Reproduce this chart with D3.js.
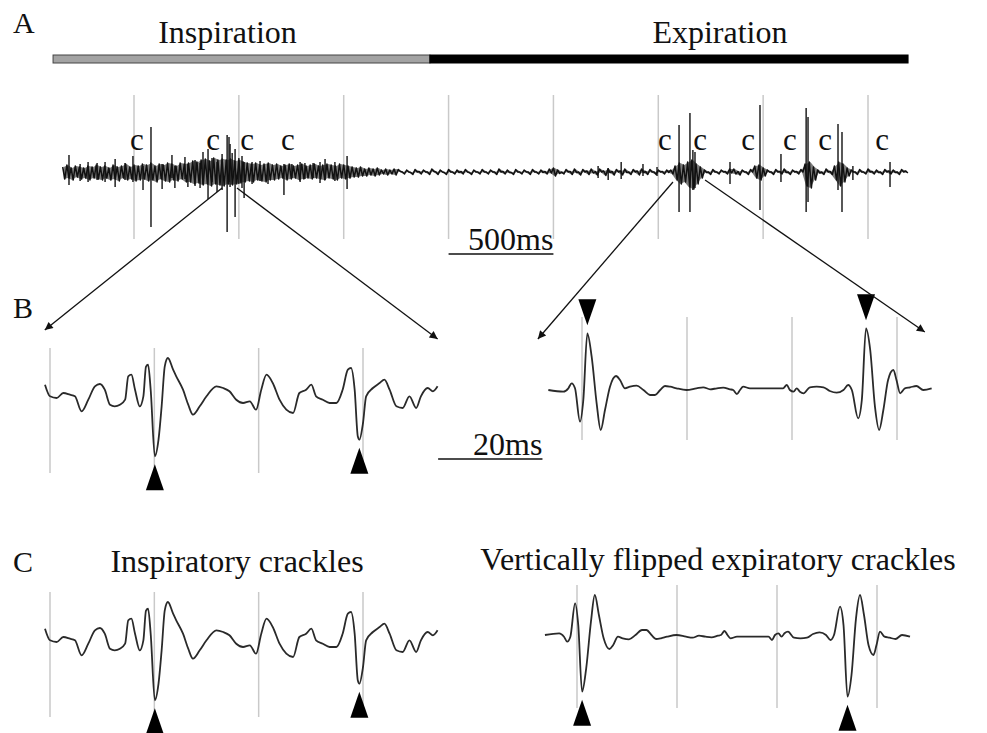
<!DOCTYPE html>
<html><head><meta charset="utf-8">
<script src="https://cdn.jsdelivr.net/npm/d3@7"></script>
<style>
body{margin:0;background:#fff}
svg{display:block}
text{font-family:"Liberation Serif","Times New Roman",serif;fill:#111}
</style>
</head><body>
<svg id="fig" width="987" height="733"></svg>
<script>
// ---------------- DATA ----------------
// Panel A: respiratory phases (ms)
const phaseLabels = ["Inspiration", "Expiration"];
const phaseStartMs = [114, 1911];
const phaseEndMs = [1911, 4191];
const phaseLabelMs = [946, 3294];
const phaseFill = ["#a3a3a3", "#000000"];

// Panel A: gridlines every 500 ms
const gridA = [500, 1000, 1500, 2000, 2500, 3000, 3500, 4000];

// Panel A: crackle "c" label times (ms)
const cLabelMs = [514, 877, 1039, 1234, 3032, 3199, 3428, 3628, 3795, 4067];

// Panel A: background trace, sampled every 20 ms from 160 ms:
// local maximum (first half of each interval) and local minimum (second half), a.u.
const aStartMs = 160, aStepMs = 20;
const aEnvHigh = [
 5,7,4,6,5,4,6,5,7,5,
 6,4,7,5,6,8,5,7,6,8,
 7,9,6,8,7,9,8,6,9,8,
 9,11,10,12,13,11,14,12,13,12,
 13,11,12,10,9,8,9,7,8,9,
 7,8,6,7,8,6,7,8,6,7,
 8,6,7,8,7,6,8,7,6,5,
 4,5,3,4,3,4,2,3,2,3,
 2.5,0,2,-0.5,2.5,0.5,2,0,3,0,
 2,-0.5,2.5,0,2,0.5,2.5,-0.5,2,0,
 2.5,0,2,0,3,0.5,2,-0.5,2.5,0,
 2,0,2.5,0,2,0.5,3,4,2,0,
 2.5,0.5,3,0,2.5,1,3,0.5,3,1,
 3,0.5,2.5,1,3,0,2.5,1,3,0.5,
 2.5,0,2,0.5,2,
 2,
 6,9,7,10,12,8,5,
 2,0,2.5,0,2,0.5,3,
 3,0.5,2,0,2.5,
 6,7,
 4,2,0,2.5,0.5,3,0,2,0.5,2.5,
 8,10,5,
 2,0,3,0.5,
 6,10,8,4,
 2,0,2.5,0,3,0.5,2,0,2.5,1,2,0,2.5,1
];
const aEnvLow = [
 -7,-6,-8,-5,-7,-6,-8,-6,-7,-8,
 -6,-8,-7,-9,-6,-8,-7,-9,-8,-7,
 -9,-8,-10,-7,-9,-10,-8,-9,-7,-10,
 -10,-12,-11,-13,-12,-14,-12,-13,-14,-12,
 -13,-12,-11,-10,-9,-10,-8,-9,-10,-8,
 -8,-7,-6,-8,-7,-6,-8,-7,-6,-7,
 -6,-7,-8,-6,-7,-8,-6,-7,-6,-5,
 -5,-4,-4,-3,-4,-3,-2,-3,-2,-3,
 0.5,-2,0,-2.5,0,-2,0,-2.5,0.5,-2.5,
 0,-2.5,0,-2,-0.5,-2,0,-2.5,0,-2,
 0,-2,0,-2.5,0,-2,-0.5,-2.5,0,-2,
 0,-2.5,0,-2,-0.5,-2,-1,-4,-1.5,-2,
 0,-2.5,-0.5,-3,0,-2.5,-1,-3,0,-3.5,
 -0.5,-3,0,-3,-0.5,-2.5,0,-3,-0.5,-2.5,
 0,-2.5,0,-2,-0.5,
 -2,
 -8,-12,-10,-15,-17,-12,-6,
 -0.5,-2.5,0,-2,0,-2,-1,
 -2,-3,0,-2.5,0,
 -6,-8,
 -4,0,-2.5,0,-2,-0.5,-2.5,0,-2,0,
 -14,-16,-8,
 -1,-2.5,0,-2.5,
 -8,-14,-10,-4,
 0,-2.5,0,-2,0,-2,-0.5,-2.5,0,-2,-0.5,-2.5,0,-1
];

// Panel A: individual spikes [time ms, upward amplitude, downward amplitude]
const aSpikes = [
 [190,17,13],[243,8,9],[281,10,10],[324,9,8],[362,10,10],[410,13,15],[457,9,8],[495,16,10],
 [543,6,18],[581,45,55],[634,8,17],[681,17,6],[695,6,16],[743,15,7],[757,8,15],[791,12,14],
 [815,9,16],[829,20,12],[853,23,27],[872,14,10],[896,10,20],[920,18,18],[944,37,60],[953,35,10],
 [958,28,15],[968,19,12],[982,23,45],[1000,14,12],[1015,16,16],[1025,10,26],[1063,10,12],[1101,11,9],
 [1139,8,12],[1215,8,23],[1253,8,6],[1292,10,10],[1315,9,7],[1354,9,6],[1387,10,11],[1411,13,8],
 [1458,10,9],[1516,16,17],
 [2713,6,6],[2761,4,8],[2823,10,7],[2927,8,4],[2994,5,4],[3099,47,40],[3151,59,40],[3165,22,18],
 [3175,20,16],[3342,10,12],[3485,67,38],[3585,18,10],[3705,64,40],[3714,55,30],[3857,48,18],
 [3876,40,40],[3928,6,8],[4105,10,15]
];

// Panels B/C: expanded traces (time ms, amplitude a.u.)
const inspTimeMs = [-0.96,0,1.28,2.55,3.83,4.78,6.06,7.34,8.61,9.57,10.5,11.5,12.4,13.4,14.4,15.0,15.6,16.3,17.2,17.9,
 18.4,18.8,19.3,20.1,20.8,21.4,22.0,22.6,23.6,24.2,25.5,26.5,27.4,28.7,30.0,31.9,33.2,34.4,35.7,37.0,
 38.3,39.5,40.5,41.5,42.7,44.0,45.3,46.6,47.8,49.1,50.1,51.0,52.3,53.6,54.9,56.1,57.1,57.7,58.4,59.0,
 59.3,60.0,60.6,61.9,63.2,64.1,65.1,66.4,67.6,68.9,70.2,71.1,72.4,73.4,74.3];
const inspAmp = [8.3,-3.3,-5,0,-1.7,-3.3,-18.3,-6.7,6.7,9,3.3,-11.7,-13.3,-11.7,-6.7,16.7,18.3,3.3,-13.3,-3.3,
 26.3,28.3,3.3,-63.3,-46.7,-13.3,26.7,35,23.3,16.7,3.3,-11.7,-21.7,-13.3,-3.3,6.7,5,1.7,-6.7,-10,
 -8.3,-16.7,3.3,18.3,10,-6.7,-16.7,-20,0,3.3,8.3,-3.3,-6.7,-10,-10,3.3,23.3,25,3.3,-43.3,
 -46.7,-30,-3.3,5,10,13.3,3.3,-13.3,-15,-3.3,-15,-3.3,5,1.7,6.7];
const expTimeMs = [-6.41,-3.56,-2.60,-1.97,-1.33,-0.38,0.25,1.02,1.84,2.79,3.56,4.38,5.33,6.48,7.24,8.19,9.14,10.4,11.7,13.0,
 13.9,14.9,15.8,16.8,18.0,19.9,21.8,23.1,24.4,25.7,26.9,28.2,28.8,29.5,30.1,30.7,32.0,34.5,37.1,38.3,
 39.0,39.6,40.3,40.9,41.5,42.2,43.4,44.7,46.0,47.2,48.5,49.8,50.7,51.4,52.6,53.3,54.1,54.9,55.8,56.6,
 57.4,58.3,59.3,59.9,60.6,61.5,62.5,63.7,65.0,66.6];
const expAmp = [0,-1.7,1.7,6.7,1.7,-31.7,-10,56.7,33.3,-13.3,-40,-20,3.3,14,10,1.7,3.3,4.3,0,-5,
 -5,0,4,3.3,1.7,0,1.7,2.7,0.7,1.7,2.3,0.7,0,-4,0,3.3,1.7,1.7,1.7,1.7,
 5,0,-1.7,1.7,-1.7,-3.3,2.7,3.3,2.7,-1,-2.7,0,5,0,-28.3,-10,61.7,40,-16.7,-40,
 -20,10,20,10,-3.3,1.7,2.7,4,0,1.7];

// Crackle times marked by triangles (ms)
const inspCrackleMs = [20.1, 59.3];
const expCrackleMs = [1.02, 54.1];

// Gridlines in B/C every 20 ms
const gridB = [0, 20, 40, 60];

// Scale bars
const scaleA = {startMs: 2000, lenMs: 500, label: "500ms"};
const scaleB = {startMs: 74.4, lenMs: 20, label: "20ms"};

// Zoom arrows: source (A time, A amp) -> target (panel time, panel amp)
const zoomArrows = [
 {from:[920,-16], to:[-1,63], panel:"BL"},
 {from:[991,-16], to:[74.3,54], panel:"BL"},
 {from:[3070,-10], to:[-8.4,51], panel:"BR"},
 {from:[3223,-8], to:[65.3,58], panel:"BR"}
];

// ---------------- DRAW ----------------
const svg = d3.select("#fig");
const gridColor = "#c9c9c9";

svg.append("defs").append("marker")
  .attr("id","ah").attr("viewBox","0 0 10 10").attr("refX",10).attr("refY",5)
  .attr("markerWidth",11).attr("markerHeight",8).attr("markerUnits","userSpaceOnUse")
  .attr("orient","auto")
  .append("path").attr("d","M0,0L10,5L0,10Z").attr("fill","#111");

// Panel A scales
const xA = d3.scaleLinear().domain([500, 4000]).range([134, 868]);
const yA = d3.scaleLinear().domain([-67, 77]).range([239, 95]);

// Panel letters
svg.append("text").attr("x",13).attr("y",33).attr("font-size",30).text("A");
svg.append("text").attr("x",13).attr("y",318).attr("font-size",30).text("B");
svg.append("text").attr("x",13).attr("y",572).attr("font-size",30).text("C");

// Phase bar and labels
const gA = svg.append("g");
gA.selectAll("rect.phase").data(phaseLabels).join("rect").attr("class","phase")
  .attr("x",(d,i)=>xA(phaseStartMs[i])).attr("y",55)
  .attr("width",(d,i)=>xA(phaseEndMs[i])-xA(phaseStartMs[i])).attr("height",8)
  .attr("fill",(d,i)=>phaseFill[i]).attr("stroke",(d,i)=>i===0?"#444":"#000").attr("stroke-width",1);
gA.selectAll("text.phase").data(phaseLabels).join("text").attr("class","phase")
  .attr("x",(d,i)=>xA(phaseLabelMs[i])).attr("y",43).attr("text-anchor","middle")
  .attr("font-size",32).text(d=>d);

// Gridlines A
gA.selectAll("line.grid").data(gridA).join("line").attr("class","grid")
  .attr("x1",d=>xA(d)).attr("x2",d=>xA(d)).attr("y1",yA.range()[1]).attr("y2",yA.range()[0])
  .attr("stroke",gridColor).attr("stroke-width",1.5);

// Envelope shading (min/max band)
const areaA = d3.area()
  .x((d,i)=>xA(aStartMs + i*aStepMs + aStepMs/4))
  .y0((d,i)=>yA(aEnvLow[i]))
  .y1((d,i)=>yA(aEnvHigh[i]));
gA.append("path").datum(aEnvHigh).attr("d",areaA).attr("fill","#111").attr("fill-opacity",0.55).attr("stroke","none");

// Background trace: zig-zag through each interval's maximum then minimum
const tracePts = [];
aEnvHigh.forEach((h,i)=>{
  const t0 = aStartMs + i*aStepMs;
  tracePts.push([t0, h]);
  tracePts.push([t0 + aStepMs/2, aEnvLow[i]]);
});
const lineA = d3.line().x(d=>xA(d[0])).y(d=>yA(d[1]));
gA.append("path").datum(tracePts).attr("d",lineA).attr("fill","none")
  .attr("stroke","#111").attr("stroke-width",1.5).attr("stroke-linejoin","round");

// Spikes
gA.selectAll("line.spike").data(aSpikes).join("line").attr("class","spike")
  .attr("x1",d=>xA(d[0])).attr("x2",d=>xA(d[0]))
  .attr("y1",d=>yA(d[1])).attr("y2",d=>yA(-d[2]))
  .attr("stroke","#111").attr("stroke-width",1.4);

// c labels
gA.selectAll("text.c").data(cLabelMs).join("text").attr("class","c")
  .attr("x",d=>xA(d)).attr("y",150).attr("text-anchor","middle").attr("font-size",31).text("c");

// Scale bar A
gA.append("line").attr("x1",xA(scaleA.startMs)).attr("x2",xA(scaleA.startMs+scaleA.lenMs))
  .attr("y1",254).attr("y2",254).attr("stroke","#111").attr("stroke-width",1.5);
gA.append("text").attr("x",xA(scaleA.startMs+scaleA.lenMs)).attr("y",250).attr("text-anchor","end")
  .attr("font-size",32).text(scaleA.label);

// Panels B / C
const panels = {
  BL: {x: d3.scaleLinear().domain([0,60]).range([50,363]), y: d3.scaleLinear().domain([-80,45]).range([473,348]), t: inspTimeMs, a: inspAmp, cr: inspCrackleMs},
  BR: {x: d3.scaleLinear().domain([0,60]).range([582,897]), y: d3.scaleLinear().domain([-50,73]).range([440,317]), t: expTimeMs, a: expAmp, cr: expCrackleMs},
  CL: {x: d3.scaleLinear().domain([0,60]).range([50,363]), y: d3.scaleLinear().domain([-80,45]).range([717,592]), t: inspTimeMs, a: inspAmp, cr: inspCrackleMs},
  CR: {x: d3.scaleLinear().domain([0,60]).range([577,877]), y: d3.scaleLinear().domain([-50,73]).range([585,708]), t: expTimeMs, a: expAmp, cr: expCrackleMs}
};

Object.entries(panels).forEach(([key,p])=>{
  const g = svg.append("g");
  const yr = p.y.range();
  g.selectAll("line.grid").data(gridB).join("line")
    .attr("x1",d=>p.x(d)).attr("x2",d=>p.x(d))
    .attr("y1",Math.min(...yr)).attr("y2",Math.max(...yr))
    .attr("stroke",gridColor).attr("stroke-width",1.5);
  const line = d3.line().x((d,i)=>p.x(p.t[i])).y((d,i)=>p.y(p.a[i])).curve(d3.curveMonotoneX);
  g.append("path").datum(p.a).attr("d",line).attr("fill","none").attr("stroke","#2a2a2a").attr("stroke-width",1.8);
  const flipped = p.y(1) > p.y(0);
  g.selectAll("path.tri").data(p.cr).join("path").attr("class","tri")
    .attr("d",tm=>{
      const idx = d3.minIndex(p.t, v=>Math.abs(v-tm));
      const amp = p.a[idx];
      const cx = p.x(p.t[idx]);
      const yv = p.y(amp);
      const screenDown = (amp < 0) !== flipped;
      if (screenDown) { const ap = yv + 8; return `M${cx},${ap}L${cx-9},${ap+26}L${cx+9},${ap+26}Z`; }
      else { const ap = yv - 8; return `M${cx},${ap}L${cx-9},${ap-26}L${cx+9},${ap-26}Z`; }
    }).attr("fill","#000");
});

// Scale bar B
{
  const p = panels.BL;
  svg.append("line").attr("x1",p.x(scaleB.startMs)).attr("x2",p.x(scaleB.startMs+scaleB.lenMs))
    .attr("y1",459).attr("y2",459).attr("stroke","#111").attr("stroke-width",1.5);
  svg.append("text").attr("x",p.x(scaleB.startMs+scaleB.lenMs)).attr("y",455).attr("text-anchor","end")
    .attr("font-size",32).text(scaleB.label);
}

// C titles
svg.append("text").attr("x",237).attr("y",572).attr("text-anchor","middle").attr("font-size",32).text("Inspiratory crackles");
svg.append("text").attr("x",718).attr("y",570).attr("text-anchor","middle").attr("font-size",32).text("Vertically flipped expiratory crackles");

// Zoom arrows
svg.selectAll("line.arrow").data(zoomArrows).join("line").attr("class","arrow")
  .attr("x1",d=>xA(d.from[0])).attr("y1",d=>yA(d.from[1]))
  .attr("x2",d=>panels[d.panel].x(d.to[0])).attr("y2",d=>panels[d.panel].y(d.to[1]))
  .attr("stroke","#111").attr("stroke-width",1.3).attr("marker-end","url(#ah)");
</script>
</body></html>
